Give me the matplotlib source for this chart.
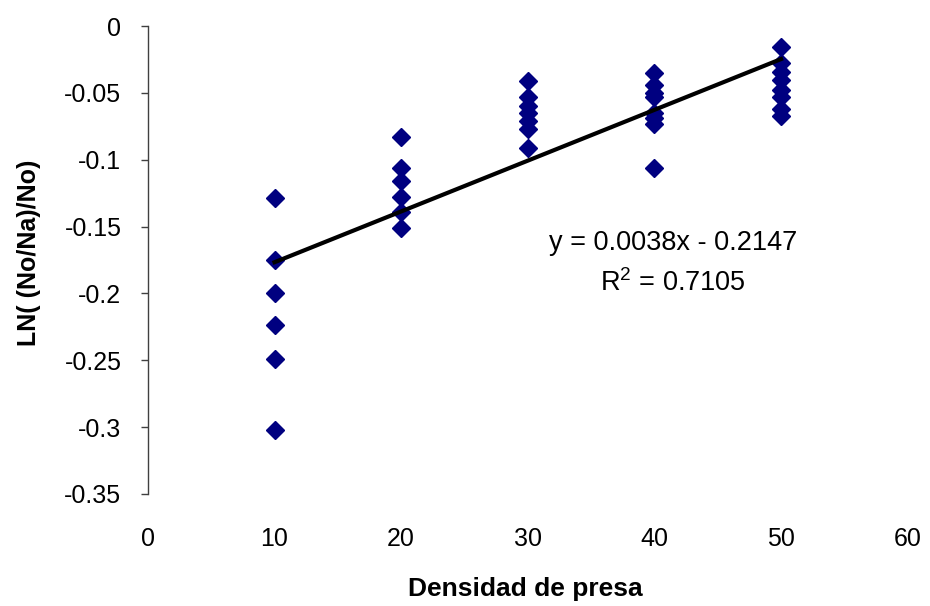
import matplotlib.pyplot as plt
from matplotlib.ticker import FuncFormatter

plt.rcParams['font.family'] = ['Liberation Sans', 'DejaVu Sans']
plt.rcParams['axes.unicode_minus'] = False

# ---- data ----
dens_10 = [10] * 6
vals_10 = [-0.129, -0.175, -0.200, -0.224, -0.249, -0.302]
dens_20 = [20] * 6
vals_20 = [-0.083, -0.106, -0.116, -0.128, -0.139, -0.151]
dens_30 = [30] * 7
vals_30 = [-0.041, -0.053, -0.060, -0.065, -0.071, -0.077, -0.091]
dens_40 = [40] * 8
vals_40 = [-0.035, -0.044, -0.050, -0.053, -0.065, -0.069, -0.073, -0.106]
dens_50 = [50] * 8
vals_50 = [-0.016, -0.028, -0.034, -0.040, -0.048, -0.053, -0.062, -0.067]

slope = 0.0038
intercept = -0.2147
r2 = 0.7105
fit_x = [10, 50]

x_all = dens_10 + dens_20 + dens_30 + dens_40 + dens_50
y_all = vals_10 + vals_20 + vals_30 + vals_40 + vals_50

fig = plt.figure(figsize=(9.3, 6.06), dpi=100)
ax = fig.add_axes([0.159, 0.185, 0.817, 0.772])

ax.plot(x_all, y_all, linestyle='none', marker='D', markersize=9.5,
        color='#000080', zorder=3)
ax.plot(fit_x, [slope * v + intercept for v in fit_x], color='black',
        linewidth=3.0, zorder=4)

ax.set_xlim(0, 60)
ax.set_ylim(-0.35, 0)
ax.set_xticks(range(0, 61, 10))
ax.set_yticks([-0.35, -0.3, -0.25, -0.2, -0.15, -0.1, -0.05, 0])
ax.yaxis.set_major_formatter(FuncFormatter(lambda v, p: '%g' % round(v, 2)))

for s in ['top', 'right', 'bottom']:
    ax.spines[s].set_visible(False)
ax.spines['left'].set_color('#404040')
ax.spines['left'].set_linewidth(1.0)
ax.tick_params(axis='y', direction='out', length=5, width=1.0,
               color='#404040', labelsize=18, pad=14)
ax.tick_params(axis='x', length=0, labelsize=18, pad=24)

ax.set_xlabel('Densidad de presa', fontsize=19, fontweight='bold')
ax.set_ylabel('LN( (No/Na)/No)', fontsize=18, fontweight='bold')
ax.xaxis.set_label_coords(0.497, -0.178)
ax.yaxis.set_label_coords(-0.141, 0.515)

ax.text(41.5, -0.162, 'y = %.4fx - %.4f' % (slope, -intercept), fontsize=19.5,
        ha='center', va='center')
ax.text(41.5, -0.192, '$\\mathregular{R^2}$ = %.4f' % r2, fontsize=19.5,
        ha='center', va='center')

fig.savefig('out.png', dpi=100)
